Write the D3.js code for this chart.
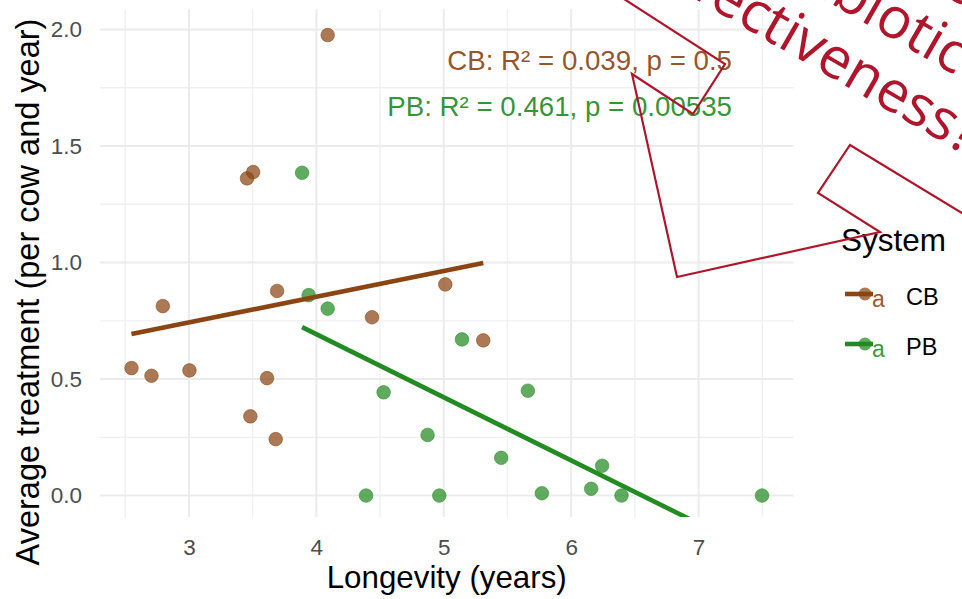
<!DOCTYPE html>
<html>
<head>
<meta charset="utf-8">
<script src="https://cdn.jsdelivr.net/npm/d3@7"></script>
<style>
  body { margin: 0; background: #fff; }
  svg { display: block; }
</style>
</head>
<body>
<div id="chart"></div>
<script>
// Longevity (years) vs average treatment, per system
const cbLongevity = [2.549, 2.706, 2.795, 3.004, 3.456, 3.504, 3.482, 3.613, 3.681, 3.692, 4.089, 4.437, 5.012, 5.310];
const cbTreatment = [0.547, 0.514, 0.813, 0.537, 1.361, 1.388, 0.340, 0.504, 0.242, 0.878, 1.976, 0.765, 0.906, 0.666];
const pbLongevity = [3.888, 3.940, 4.089, 5.143, 4.528, 5.660, 4.873, 5.451, 6.243, 6.157, 4.390, 4.965, 5.770, 6.395, 7.498];
const pbTreatment = [1.385, 0.860, 0.802, 0.670, 0.443, 0.450, 0.260, 0.162, 0.128, 0.029, 0.000, 0.000, 0.010, 0.000, 0.000];

// Fitted lines (ends of the lm fit)
const cbFit = [[2.549, 0.693], [5.310, 0.998]];
const pbFit = [[3.888, 0.723], [7.498, -0.255]];

const systems = ["CB", "PB"];
const statLabels = ["CB: R\u00b2 = 0.039, p = 0.5", "PB: R\u00b2 = 0.461, p = 0.00535"];
const xTicks = [3, 4, 5, 6, 7];
const yTicks = [0, 0.5, 1, 1.5, 2];

// Slide overlay text and callout outline
const calloutLines = ["Increase", "antibiotic", "effectiveness?"];
const calloutOutline = [[610, -10], [725, 64], [693, 114], [632, 74], [677, 277], [880, 232], [818, 193], [850, 145], [962, 213], [985, 227]];

const width = 962;
const height = 599;
const panel = { left: 100, right: 793.5, top: 9.2, bottom: 517 };

const colours = { CB: "#8B4513", PB: "#228B22" };
const overlayRed = "#B0152B";
const fontMain = "'Liberation Sans', Arial, sans-serif";

const svg = d3.select("#chart").append("svg")
  .attr("width", width)
  .attr("height", height);

// Scales
const xScale = d3.scaleLinear().domain([2.302, 7.745]).range([panel.left, panel.right]);
const yScale = d3.scaleLinear().domain([-0.092, 2.087]).range([panel.bottom, panel.top]);

// Grid (minor first, then major)
const grid = svg.append("g");
const xMinor = d3.range(2.5, 7.6, 1);
const yMinor = [0.25, 0.75, 1.25, 1.75];

grid.selectAll(".xminor").data(xMinor).enter().append("line")
  .attr("x1", (d) => xScale(d)).attr("x2", (d) => xScale(d))
  .attr("y1", panel.top).attr("y2", panel.bottom)
  .attr("stroke", "#EFEFEF").attr("stroke-width", 1.3);
grid.selectAll(".yminor").data(yMinor).enter().append("line")
  .attr("y1", (d) => yScale(d)).attr("y2", (d) => yScale(d))
  .attr("x1", panel.left).attr("x2", panel.right)
  .attr("stroke", "#EFEFEF").attr("stroke-width", 1.3);
grid.selectAll(".xmajor").data(xTicks).enter().append("line")
  .attr("x1", (d) => xScale(d)).attr("x2", (d) => xScale(d))
  .attr("y1", panel.top).attr("y2", panel.bottom)
  .attr("stroke", "#EBEBEB").attr("stroke-width", 2);
grid.selectAll(".ymajor").data(yTicks).enter().append("line")
  .attr("y1", (d) => yScale(d)).attr("y2", (d) => yScale(d))
  .attr("x1", panel.left).attr("x2", panel.right)
  .attr("stroke", "#EBEBEB").attr("stroke-width", 2);

// Axes
const xAxisG = svg.append("g")
  .attr("transform", `translate(0, ${panel.bottom})`)
  .call(d3.axisBottom(xScale).tickValues(xTicks).tickSize(0).tickPadding(22).tickFormat(d3.format("d")));
const yAxisG = svg.append("g")
  .attr("transform", `translate(${panel.left}, 0)`)
  .call(d3.axisLeft(yScale).tickValues(yTicks).tickSize(0).tickPadding(18).tickFormat(d3.format(".1f")));

for (const g of [xAxisG, yAxisG]) {
  g.select(".domain").remove();
  g.selectAll("text")
    .attr("fill", "#4D4D4D")
    .style("font-family", fontMain)
    .style("font-size", "22.5px");
}

// Axis titles
svg.append("text")
  .attr("x", (panel.left + panel.right) / 2)
  .attr("y", 588)
  .attr("text-anchor", "middle")
  .style("font-family", fontMain)
  .style("font-size", "31.3px")
  .text("Longevity (years)");

svg.append("text")
  .attr("transform", "translate(39, 292) rotate(-90)")
  .attr("text-anchor", "middle")
  .style("font-family", fontMain)
  .style("font-size", "32.5px")
  .text("Average treatment (per cow and year)");

// Clip to the panel
svg.append("defs").append("clipPath").attr("id", "clip")
  .append("rect")
  .attr("x", panel.left).attr("y", panel.top)
  .attr("width", panel.right - panel.left).attr("height", panel.bottom - panel.top);

const drawArea = svg.append("g").attr("clip-path", "url(#clip)");

const series = [
  { name: "CB", x: cbLongevity, y: cbTreatment, fit: cbFit },
  { name: "PB", x: pbLongevity, y: pbTreatment, fit: pbFit },
];

const line = d3.line().x((d) => xScale(d[0])).y((d) => yScale(d[1]));

// Points
for (const s of series) {
  drawArea.append("g").selectAll("circle")
    .data(s.x.map((v, i) => [v, s.y[i]]))
    .enter().append("circle")
    .attr("cx", (d) => xScale(d[0]))
    .attr("cy", (d) => yScale(d[1]))
    .attr("r", 6.8)
    .attr("fill", colours[s.name])
    .attr("fill-opacity", 0.72)
    .attr("stroke", colours[s.name])
    .attr("stroke-opacity", 0.55)
    .attr("stroke-width", 1);
}

// Fit lines
for (const s of series) {
  drawArea.append("path")
    .attr("d", line(s.fit))
    .attr("fill", "none")
    .attr("stroke", colours[s.name])
    .attr("stroke-width", 4.6);
}

// R² / p labels, right aligned
svg.selectAll(".stat").data(statLabels).enter().append("text")
  .attr("x", 732)
  .attr("y", (d, i) => 70 + i * 46)
  .attr("text-anchor", "end")
  .attr("fill", (d, i) => colours[systems[i]])
  .attr("fill-opacity", 0.92)
  .style("font-family", fontMain)
  .style("font-size", "27.7px")
  .text((d) => d);

// Legend
const legend = svg.append("g");
legend.append("text")
  .attr("x", 841).attr("y", 251)
  .style("font-family", fontMain)
  .style("font-size", "31.5px")
  .text("System");

systems.forEach((name, i) => {
  const ky = 294 + i * 50;
  const key = legend.append("g");
  key.append("line")
    .attr("x1", 845).attr("x2", 873)
    .attr("y1", ky).attr("y2", ky)
    .attr("stroke", colours[name]).attr("stroke-width", 4.6);
  key.append("circle")
    .attr("cx", 865).attr("cy", ky).attr("r", 6.5)
    .attr("fill", colours[name]).attr("fill-opacity", 0.72);
  key.append("text")
    .attr("x", 872).attr("y", ky + 13)
    .attr("fill", colours[name]).attr("fill-opacity", 0.9)
    .style("font-family", fontMain)
    .style("font-size", "23px")
    .text("a");
  legend.append("text")
    .attr("x", 906).attr("y", ky + 11)
    .style("font-family", fontMain)
    .style("font-size", "23.5px")
    .text(name);
});

// Slide overlay: callout outline and rotated text
svg.append("path")
  .attr("d", d3.line()(calloutOutline))
  .attr("fill", "none")
  .attr("stroke", overlayRed)
  .attr("stroke-width", 2.2)
  .attr("stroke-linejoin", "miter");

const overlay = svg.append("g")
  .attr("transform", "translate(707, 6) rotate(30)")
  .attr("fill", overlayRed)
  .style("font-family", "'Open Sans', sans-serif")
  .style("font-size", "57px");

// line 3: "eff" runs off the top of the picture
const line3 = overlay.append("text").attr("y", 0).text(calloutLines[2]);
line3.attr("x", -line3.node().getSubStringLength(0, 3));

// line 2: "anti" runs off the top
const line2 = overlay.append("text").attr("y", -64).text(calloutLines[1]);
line2.attr("x", 104 - line2.node().getSubStringLength(0, 4));

// line 1: only the tail of its last letter touches the picture
overlay.append("text")
  .attr("y", -128).attr("x", 226)
  .attr("text-anchor", "end")
  .text(calloutLines[0]);
</script>
</body>
</html>
